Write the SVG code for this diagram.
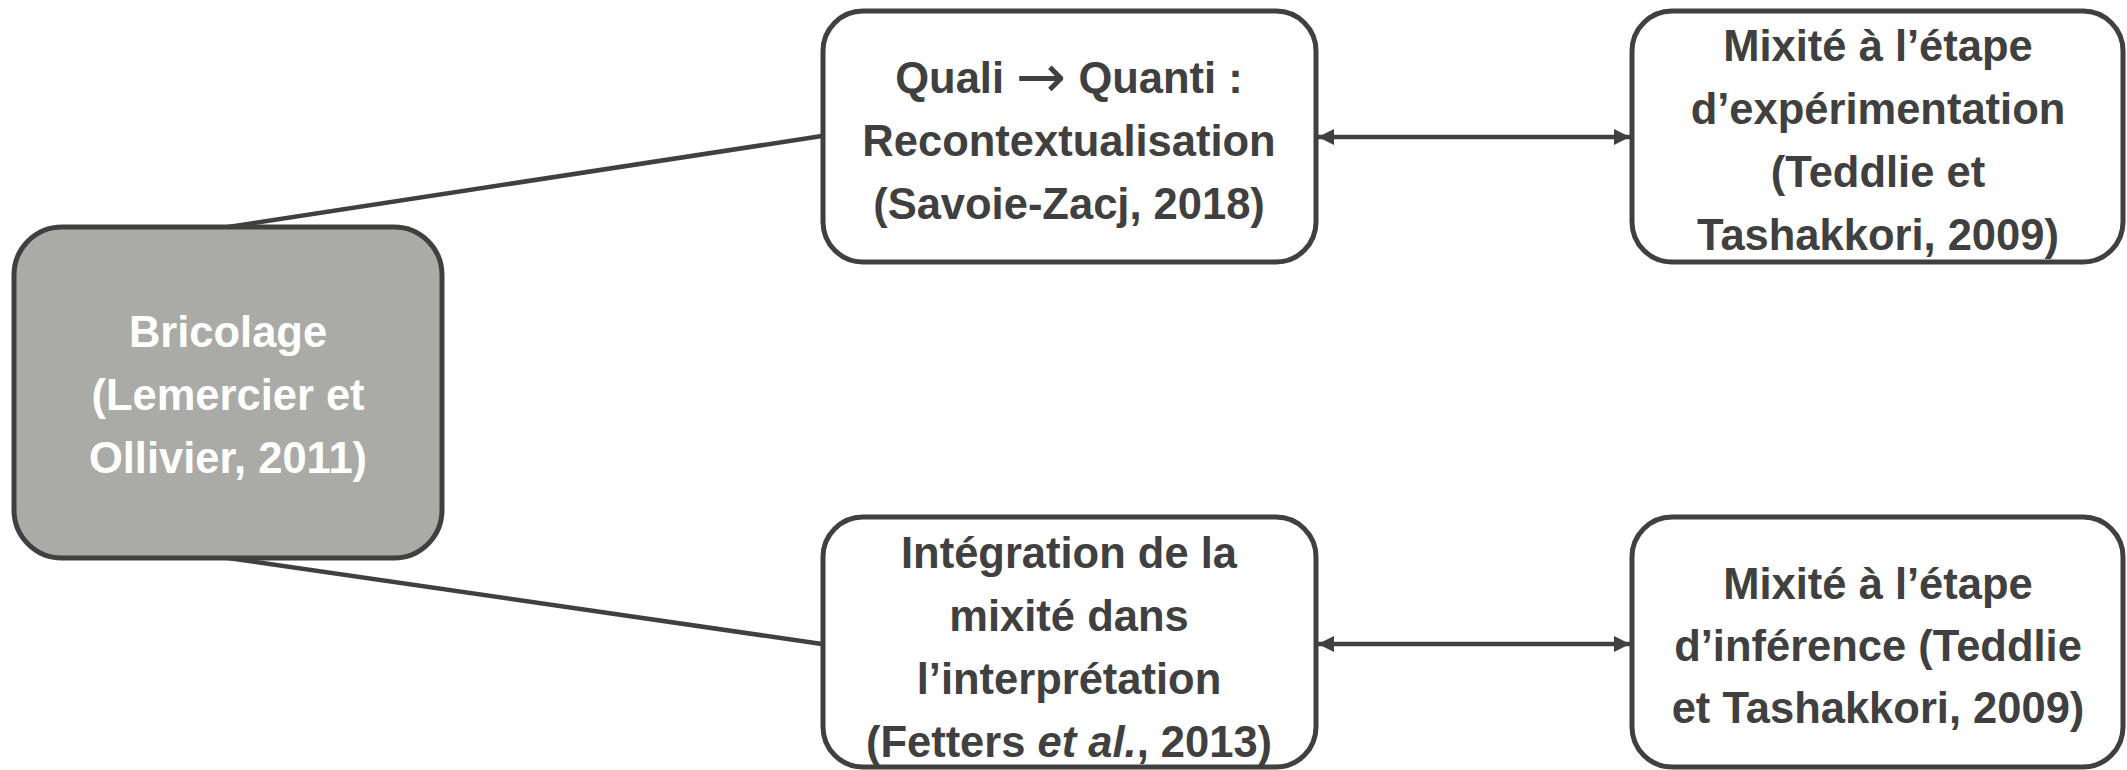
<svg xmlns="http://www.w3.org/2000/svg" width="2127" height="770" viewBox="0 0 2127 770">
<style>
.box{fill:#ffffff;stroke:#404040;stroke-width:5}
.main{fill:#aaaba6;stroke:#404040;stroke-width:5}
.t{font-family:"Liberation Sans",Arial,sans-serif;font-weight:bold;font-size:43.5px;fill:#404040;text-anchor:middle}
.w{fill:#ffffff}
.arr{font-family:"DejaVu Sans",sans-serif;font-weight:normal;font-size:60px}
.c{stroke:#404040;stroke-width:4.5;fill:none}
</style>
<defs>
<marker id="ah" viewBox="0 0 16 16" refX="16" refY="8" markerWidth="16" markerHeight="16" markerUnits="userSpaceOnUse" orient="auto-start-reverse">
<path d="M0,0 L16,8 L0,16 Z" fill="#404040"/>
</marker>
</defs>
<g id="connectors">
<line class="c" x1="228" y1="227" x2="822" y2="136"/>
<line class="c" x1="228" y1="558" x2="822" y2="644"/>
<line class="c" x1="1318" y1="137" x2="1630" y2="137" marker-start="url(#ah)" marker-end="url(#ah)"/>
<line class="c" x1="1318" y1="644" x2="1630" y2="644" marker-start="url(#ah)" marker-end="url(#ah)"/>
</g>
<g id="bricolage">
<rect class="main" x="14" y="227" width="428" height="331" rx="48" ry="48"/>
<text class="t w" x="228" y="347">Bricolage</text>
<text class="t w" x="228" y="410">(Lemercier et</text>
<text class="t w" x="228" y="473">Ollivier, 2011)</text>
</g>
<g id="quali-quanti">
<rect class="box" x="823" y="11" width="493" height="251" rx="40" ry="40"/>
<text class="t" x="1069" y="93">Quali <tspan class="arr" dy="4">→</tspan><tspan dy="-4"> Quanti :</tspan></text>
<text class="t" x="1069" y="156">Recontextualisation</text>
<text class="t" x="1069" y="219">(Savoie-Zacj, 2018)</text>
</g>
<g id="mixite-experimentation">
<rect class="box" x="1632" y="11" width="491" height="251" rx="40" ry="40"/>
<text class="t" x="1878" y="61">Mixité à l’étape</text>
<text class="t" x="1878" y="124">d’expérimentation</text>
<text class="t" x="1878" y="187">(Teddlie et</text>
<text class="t" x="1878" y="250">Tashakkori, 2009)</text>
</g>
<g id="integration">
<rect class="box" x="823" y="517" width="493" height="250" rx="40" ry="40"/>
<text class="t" x="1069" y="568">Intégration de la</text>
<text class="t" x="1069" y="631">mixité dans</text>
<text class="t" x="1069" y="694">l’interprétation</text>
<text class="t" x="1069" y="757">(Fetters <tspan font-style="italic">et al.</tspan>, 2013)</text>
</g>
<g id="mixite-inference">
<rect class="box" x="1632" y="517" width="491" height="250" rx="40" ry="40"/>
<text class="t" x="1878" y="599">Mixité à l’étape</text>
<text class="t" x="1878" y="661">d’inférence (Teddlie</text>
<text class="t" x="1878" y="723">et Tashakkori, 2009)</text>
</g>
</svg>
